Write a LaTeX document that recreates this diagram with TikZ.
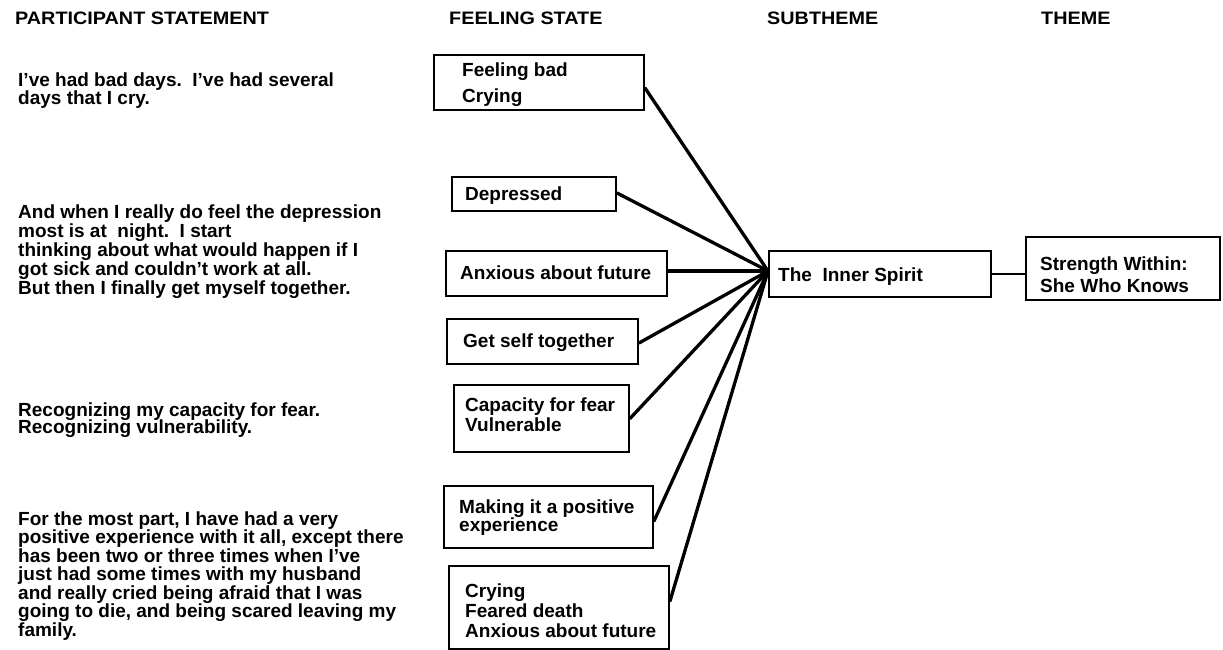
\documentclass[tikz,border=0pt]{standalone}
\usepackage{fontspec}
\usepackage{graphicx}
\setmainfont{Liberation Sans}

% one named node per printed line: name, x, first baseline, line step, lines
\newcommand\stlines[5]{%
  \foreach \t [count=\k] in {#5}{%
    \node[txt] (#1-\k) at (#2,{#3+(\k-1)*#4}) {\t};}}

\begin{document}
\begin{tikzpicture}[x=1pt,y=-1pt,
  head/.style={anchor=base west, inner sep=0pt,
    font=\fontsize{18}{18}\selectfont\bfseries},
  txt/.style={anchor=base west, inner sep=0pt,
    font=\fontsize{19}{19}\selectfont\bfseries},
  box/.style={draw=black, line width=2pt, inner sep=0pt, anchor=north west},
  link/.style={draw=black, line width=3.3pt, line cap=round},
  tie/.style={draw=black, line width=2.5pt}]

\useasboundingbox[fill=white] (0,0) rectangle (1223,650);

% column headings
\node[head] (h1) at (15,25)   {\scalebox{1.1}[1]{PARTICIPANT STATEMENT}};
\node[head] (h2) at (449,25)  {\scalebox{1.1}[1]{FEELING STATE}};
\node[head] (h3) at (767,25)  {\scalebox{1.1}[1]{SUBTHEME}};
\node[head] (h4) at (1041,25) {\scalebox{1.1}[1]{THEME}};

% participant statements
\stlines{p1}{18}{87}{18}{{I've had bad days.\ \ I've had several},{days that I cry.}}
\stlines{p2}{18}{218}{19.2}{{And when I really do feel the depression},
  {most is at\ \ night.\ \ I start},
  {thinking about what would happen if I},
  {got sick and couldn't work at all.},
  {But then I finally get myself together.}}
\stlines{p3}{18}{416}{17}{{Recognizing my capacity for fear.},{Recognizing vulnerability.}}
\stlines{p4}{18}{525}{18.5}{{For the most part, I have had a very},
  {positive experience with it all, except there},
  {has been two or three times when I've},
  {just had some times with my husband},
  {and really cried being afraid that I was},
  {going to die, and being scared leaving my},
  {family.}}

% feeling-state boxes
\node[box, minimum width=210, minimum height=55] (fb)  at (433,54)  {};
\node[box, minimum width=164, minimum height=34] (dep) at (451,176) {};
\node[box, minimum width=221, minimum height=45] (anx) at (445,250) {};
\node[box, minimum width=191, minimum height=45] (gst) at (446,318) {};
\node[box, minimum width=175, minimum height=67] (cap) at (453,384) {};
\node[box, minimum width=209, minimum height=62] (mak) at (443,485) {};
\node[box, minimum width=220, minimum height=83] (cry) at (448,565) {};

\stlines{fbt}{462}{77}{26}{{Feeling bad},{Crying}}
\stlines{dept}{465}{200}{0}{{Depressed}}
\stlines{anxt}{460}{279}{0}{{Anxious about future}}
\stlines{gstt}{463}{347}{0}{{Get self together}}
\stlines{capt}{465}{411}{20}{{Capacity for fear},{Vulnerable}}
\stlines{makt}{459}{513}{18}{{Making it a positive},{experience}}
\stlines{cryt}{465}{597}{20}{{Crying},{Feared death},{Anxious about future}}

% subtheme and theme
\node[box, minimum width=222, minimum height=46] (isp) at (768,250) {};
\node[box, minimum width=194, minimum height=63] (thm) at (1025,236) {};
\stlines{ispt}{778}{281}{0}{{The\ \ Inner Spirit}}
\stlines{thmt}{1040}{270}{22}{{Strength Within:},{She Who Knows}}

% all feelings meet at one point on the subtheme box
\coordinate (hub) at ([yshift=3pt]isp.west);
\draw[link] ([yshift=-5.5pt]fb.east) -- (hub);
\draw[link] ([yshift=1pt]dep.east) -- (hub);
\draw[link] (anx.east |- hub) -- (hub);
\draw[link] ([yshift=-1.5pt]gst.east) -- (hub);
\draw[link] (cap.east) -- (hub);
\draw[link] ([yshift=-4pt]mak.east) -- (hub);
\draw[link] ([yshift=6.5pt]cry.east) -- (hub);

\draw[tie] (isp.east) -- (isp.east -| thm.west);
\end{tikzpicture}
\end{document}
